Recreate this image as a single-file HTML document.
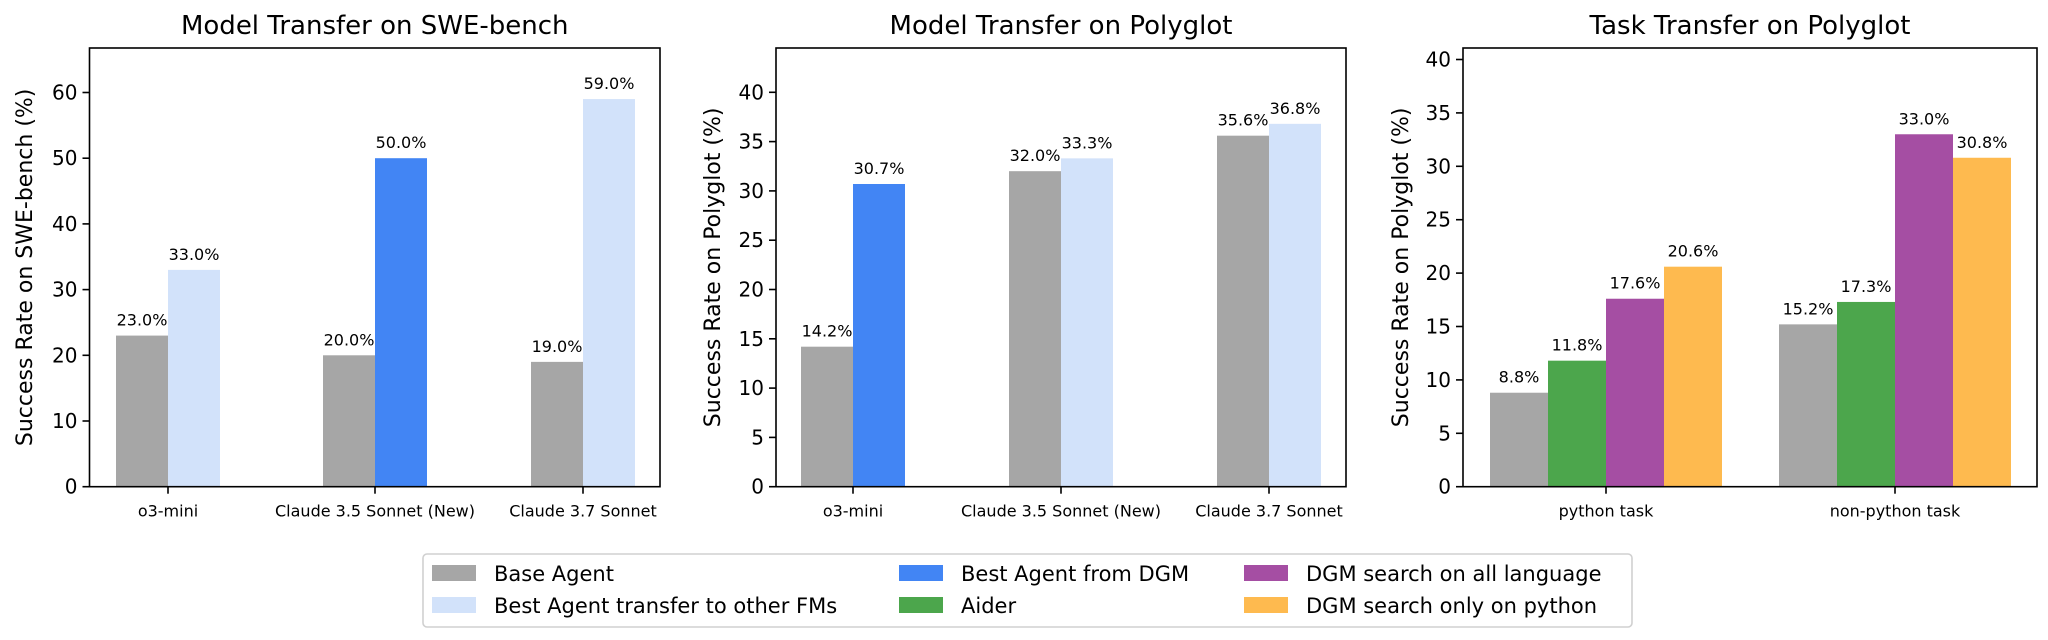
<!DOCTYPE html>
<html><head><meta charset="utf-8"><style>
html,body{margin:0;padding:0;background:#fff;width:2048px;height:640px;overflow:hidden}
svg text{font-family:"DejaVu Sans","Liberation Sans",sans-serif;fill:#000}
</style></head><body>
<svg id="s" width="2048" height="640" xmlns="http://www.w3.org/2000/svg"></svg>
<script>
const s=document.getElementById('s');let h='';
const C={g:'#a6a6a6',l:'#d2e2fa',b:'#4285f4',gr:'#4ca64c',p:'#a54ea3',o:'#feba4f'};
const yb=486.7,yt=48;
function panel(o){
 const {x0,x1,sc,ticks,title,ylab,ylx,groups,w,series,fmt}=o;
 // bars
 groups.forEach((g,gi)=>{
  const n=series.length;
  series.forEach((se,si)=>{
   const v=se.v[gi];const col=se.c[gi]||se.c[0];
   const x=g.c-n*w/2+si*w;const y=yb-v*sc;
   h+=`<rect x="${x}" y="${y}" width="${w}" height="${yb-y}" fill="${col}"/>`;
   h+=`<text x="${x+w/2}" y="${y-10}" font-size="16" text-anchor="middle">${v.toFixed(1)}%</text>`;
  });
  h+=`<line x1="${g.c}" y1="${yb}" x2="${g.c}" y2="${yb+7}" stroke="#000" stroke-width="1.6"/>`;
  h+=`<text x="${g.c}" y="${yb+30}" font-size="16" text-anchor="middle">${g.n}</text>`;
 });
 ticks.forEach(t=>{const y=yb-t*sc;
  h+=`<line x1="${x0-7}" y1="${y}" x2="${x0}" y2="${y}" stroke="#000" stroke-width="1.6"/>`;
  h+=`<text x="${x0-12}" y="${y+7}" font-size="20" text-anchor="end">${t}</text>`;});
 h+=`<rect x="${x0}" y="${yt}" width="${x1-x0}" height="${yb-yt}" fill="none" stroke="#000" stroke-width="1.6"/>`;
 h+=`<text x="${(x0+x1)/2}" y="34" font-size="26" text-anchor="middle">${title}</text>`;
 h+=`<text transform="translate(${ylx},${(yt+yb)/2}) rotate(-90)" font-size="22" text-anchor="middle">${ylab}</text>`;
}
panel({x0:89.5,x1:660,sc:6.57,ticks:[0,10,20,30,40,50,60],title:'Model Transfer on SWE-bench',ylab:'Success Rate on SWE-bench (%)',ylx:32,w:52,
 groups:[{c:168,n:'o3-mini'},{c:375,n:'Claude 3.5 Sonnet (New)'},{c:583,n:'Claude 3.7 Sonnet'}],
 series:[{v:[23,20,19],c:[C.g,C.g,C.g]},{v:[33,50,59],c:[C.l,C.b,C.l]}]});
panel({x0:776,x1:1346,sc:9.86,ticks:[0,5,10,15,20,25,30,35,40],title:'Model Transfer on Polyglot',ylab:'Success Rate on Polyglot (%)',ylx:720,w:52,
 groups:[{c:853,n:'o3-mini'},{c:1061,n:'Claude 3.5 Sonnet (New)'},{c:1269,n:'Claude 3.7 Sonnet'}],
 series:[{v:[14.2,32,35.6],c:[C.g,C.g,C.g]},{v:[30.7,33.3,36.8],c:[C.b,C.l,C.l]}]});
panel({x0:1463,x1:2037,sc:10.68,ticks:[0,5,10,15,20,25,30,35,40],title:'Task Transfer on Polyglot',ylab:'Success Rate on Polyglot (%)',ylx:1408,w:58,
 groups:[{c:1606,n:'python task'},{c:1895,n:'non-python task'}],
 series:[{v:[8.8,15.2],c:[C.g]},{v:[11.8,17.3],c:[C.gr]},{v:[17.6,33],c:[C.p]},{v:[20.6,30.8],c:[C.o]}]});
// legend
h+=`<rect x="423" y="554" width="1209" height="73" rx="4" fill="#fff" stroke="#d0d0d0" stroke-width="1.6"/>`;
const L=[[432,573,C.g,'Base Agent'],[432,605,C.l,'Best Agent transfer to other FMs'],[899,573,C.b,'Best Agent from DGM'],[899,605,C.gr,'Aider'],[1244,573,C.p,'DGM search on all language'],[1244,605,C.o,'DGM search only on python']];
L.forEach(([x,y,c,t])=>{h+=`<rect x="${x}" y="${y-8}" width="44" height="16" fill="${c}"/><text x="${x+62}" y="${y+8}" font-size="21">${t}</text>`;});
s.innerHTML=h;
</script>
</body></html>
